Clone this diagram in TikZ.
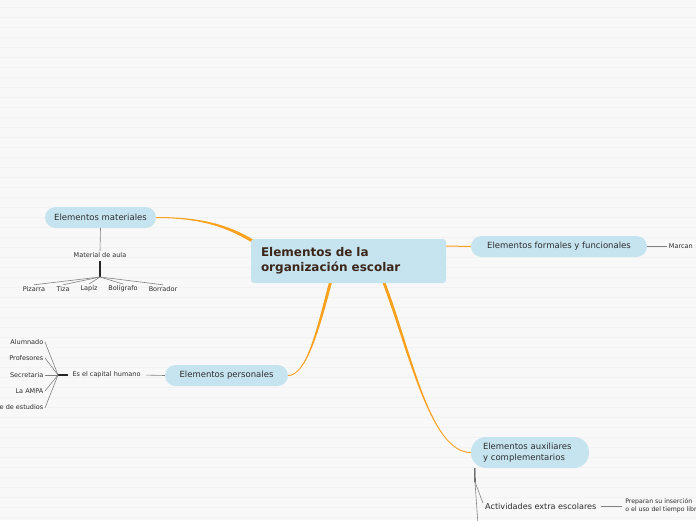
\documentclass[tikz,border=0pt]{standalone}
\usepackage{fontspec}
\setmainfont{DejaVu Sans}
\usetikzlibrary{positioning,backgrounds}
\definecolor{bgpaper}{RGB}{248,248,248}
\definecolor{bgline}{RGB}{242,242,242}
\definecolor{topicblue}{RGB}{198,228,240}
\definecolor{branchorange}{RGB}{249,160,28}
\definecolor{rootink}{RGB}{60,38,26}
\definecolor{topicink}{RGB}{45,45,45}
\definecolor{twig}{RGB}{130,130,130}

\begin{document}
\begin{tikzpicture}[
  x=1pt, y=-1pt,
  node distance=6pt and 20pt,
  rootbox/.style={fill=topicblue, rounded corners=3pt, minimum width=195pt, minimum height=44pt,
                  text width=175pt, inner xsep=10pt, align=left,
                  font=\fontsize{12}{15}\selectfont\bfseries, text=rootink},
  topic/.style={fill=topicblue, rounded corners=10.5pt, minimum height=21pt, inner xsep=6pt,
                inner ysep=2pt, font=\fontsize{8.5}{11.5}\selectfont, text=topicink},
  sub/.style={inner sep=1pt, font=\fontsize{8.1}{10}\selectfont, text=topicink},
  leaf/.style={inner sep=1.5pt, font=\fontsize{6.5}{8}\selectfont, text=topicink},
  branch/.style={fill=branchorange},
  twigline/.style={draw=twig, line width=0.6pt},
  hubline/.style={draw=black!85, line width=1.1pt}
]
  \useasboundingbox (0,0) rectangle (696,520);

  % central topic and main topics
  \node[rootbox] (root) at (348.5,261) {Elementos de la\\organización escolar};
  \node[topic, minimum width=111pt] (mat) at (100.5,217.5) {Elementos materiales};
  \node[topic, minimum width=176pt] (form) at (559,246.5) {Elementos formales y funcionales};
  \node[topic, minimum width=123pt] (pers) at (226.5,375.5) {Elementos personales};
  \node[topic, minimum width=118pt, minimum height=31pt, rounded corners=15pt, text width=94pt,
        inner xsep=12pt, align=left] (aux)
    at (530,452.5) {Elementos auxiliares\\y complementarios};

  % materiales
  \node[leaf] (aula) at (100,255) {Material de aula};
  \coordinate (aulahub) at (100,277);
  \node[leaf] (pizarra) at (34,289) {Pizarra};
  \node[leaf] (tiza) at (63,289) {Tiza};
  \node[leaf] (lapiz) at (89,289) {Lapíz};
  \node[leaf] (boli) at (123,289) {Bolígrafo};
  \node[leaf] (borrador) at (163,289) {Borrador};
  \draw[twigline] (mat.south) -- (aula.north);
  \draw[hubline] ([yshift=-2pt]aula.south) -- (aulahub);
  \foreach \n in {pizarra,tiza,lapiz,boli,borrador}
    \draw[twigline] (aulahub) -- (\n.north);

  % personales
  \node[leaf] (capital) at (106.5,375) {Es el capital humano};
  \coordinate (caphub) at (58,375);
  \node[leaf, anchor=east] (alumnado) at (45,342) {Alumnado};
  \node[leaf, anchor=east] (profes) at (45,358) {Profesores};
  \node[leaf, anchor=east] (secre) at (45,375) {Secretaria};
  \node[leaf, anchor=east] (ampa) at (45,391) {La AMPA};
  \node[leaf, anchor=east] (jefe) at (45,408) {Jefe de estudios};
  \draw[twigline, shorten <=4pt] (capital.east) -- (pers.west);
  \draw[hubline, shorten <=3pt] (capital.west) -- (caphub);
  \foreach \n in {alumnado,profes,secre,ampa,jefe}
    \draw[twigline] (caphub) -- (\n.east);

  % formales
  \node[leaf, right=20pt of form] (marcan) {Marcan};
  \draw[twigline] (form.east) -- (marcan.west);

  % auxiliares
  \node[sub, anchor=west] (act) at (484,506) {Actividades extra escolares};
  \node[leaf, right=26pt of act, align=left, font=\fontsize{6.2}{8}\selectfont] (prep)
    {Preparan su inserción\\o el uso del tiempo libre};
  \coordinate (auxhub) at (475,482);
  \coordinate (auxmore) at (478,525);
  \draw[twigline, shorten <=3pt, shorten >=2pt] (act.east) -- (prep.west);
  \draw[hubline] ([xshift=4pt]aux.south west) -- (auxhub);
  \draw[twigline] (auxhub) -- ([shift={(-1,-3)}]act.west);
  \draw[twigline] (auxhub) -- (auxmore);

  \begin{scope}[on background layer]
    \fill[bgpaper] (0,0) rectangle (696,520);
    \foreach \y in {7,17,...,517}
      \draw[bgline, line width=0.6pt] (0,\y) -- (696,\y);
    % orange branches, thick at the centre
    \fill[branch] ([yshift=0.5pt]mat.east) .. controls +(44,0) and +(-26,-16) .. ([shift={(3.8,1.7)}]root.north west)
      -- ([shift={(2.2,4.3)}]root.north west) .. controls +(-26,-16) and +(44,0) .. ([yshift=-0.5pt]mat.east) -- cycle;
    \fill[branch] ([shift={(-19,-3)}]root.south) .. controls +(-13,50) and +(18,0) .. ([yshift=0.5pt]pers.east)
      -- ([yshift=-0.5pt]pers.east) .. controls +(18,0) and +(-13,50) .. ([shift={(-16,-3)}]root.south) -- cycle;
    \fill[branch] ([shift={(36,-3)}]root.south) .. controls +(27,70) and +(-41,0) .. ([yshift=0.5pt]aux.west)
      -- ([yshift=-0.5pt]aux.west) .. controls +(-41,0) and +(27,70) .. ([shift={(33,-3)}]root.south) -- cycle;
    \draw[branchorange, line width=1pt] ([yshift=15pt]root.east) .. controls +(12,0) and +(-12,0) .. (form.west);
  \end{scope}
\end{tikzpicture}
\end{document}
